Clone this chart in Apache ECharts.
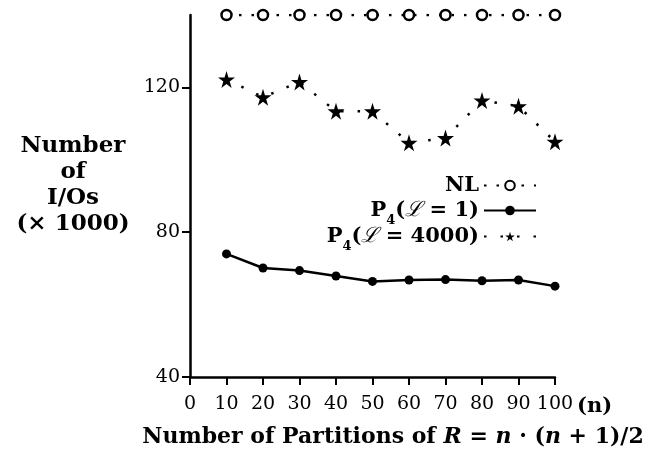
<!DOCTYPE html>
<html>
<head>
<meta charset="utf-8">
<script src="https://cdn.jsdelivr.net/npm/echarts@6/dist/echarts.min.js"></script>
<style>
  html, body { margin: 0; padding: 0; background: #fff; }
  #main { width: 650px; height: 452px; }
</style>
</head>
<body>
<div id="main"></div>
<script>
// partitions n
const partitions = [10, 20, 30, 40, 50, 60, 70, 80, 90, 100];
// I/Os (x1000)
const nlValues = [140, 140, 140, 140, 140, 140, 140, 140, 140, 140];
const p4L1Values = [74, 70.1, 69.4, 67.9, 66.4, 66.8, 66.9, 66.6, 66.8, 65.1];
const p4L4000Values = [122.2, 117.3, 121.5, 113.4, 113.4, 104.7, 106, 116.4, 114.8, 105];
const yTicks = [40, 80, 120];

const pairs = (vals) => partitions.map((n, i) => [n, vals[i]]);

const serif = 'DejaVu Serif';
const star = 'path://M50,0 L61,35 L98,35 L68,57 L79,91 L50,70 L21,91 L32,57 L2,35 L39,35 Z';

const legendRich = {
  b: { fontFamily: serif, fontWeight: 'bold', fontSize: 21, color: '#000' },
  s: { fontFamily: serif, fontWeight: 'bold', fontSize: 13, color: '#000', verticalAlign: 'bottom', padding: [0, 0, -6, 0] },
  sc: { fontFamily: serif, fontStyle: 'italic', fontSize: 21, color: '#000' }
};
const legendFmt = (name) => {
  if (name === 'NL') return '{b|NL}';
  if (name === 'P4(L=1)') return '{b|P}{s|4}{b|(}{sc|ℒ}{b| = 1)}';
  return '{b|P}{s|4}{b|(}{sc|ℒ}{b| = 4000)}';
};
const legendBase = {
  orient: 'vertical', align: 'right', right: 108,
  itemWidth: 52, itemHeight: 12,
  formatter: legendFmt,
  textStyle: { rich: legendRich }
};

const chart = echarts.init(document.getElementById('main'));
chart.setOption({
  backgroundColor: '#fff',
  animation: false,
  title: [
    {
      text: 'Number\nof\nI/Os\n(× 1000)',
      left: 68, top: 128, textAlign: 'center',
      textStyle: { fontFamily: serif, fontWeight: 'bold', fontSize: 23, lineHeight: 26, color: '#000', align: 'center' }
    },
    {
      text: '(n)',
      left: 572, top: 391,
      textStyle: { fontFamily: serif, fontWeight: 'bold', fontSize: 21, color: '#000' }
    },
    {
      text: '{b|Number of Partitions of }{i|R}{b| = }{i|n}{b| · (}{i|n}{b| + 1)/2}',
      left: 388, top: 421, textAlign: 'center',
      textStyle: {
        rich: {
          b: { fontFamily: serif, fontWeight: 'bold', fontSize: 22, color: '#000' },
          i: { fontFamily: serif, fontWeight: 'bold', fontStyle: 'italic', fontSize: 22, color: '#000' }
        }
      }
    }
  ],
  legend: [
    Object.assign({}, legendBase, { data: ['NL'], top: 170 }),
    Object.assign({}, legendBase, { data: ['P4(L=1)'], top: 195 }),
    Object.assign({}, legendBase, { data: ['P4(L=4000)'], top: 221 })
  ],
  grid: { left: 190, right: 95, top: 15, bottom: 75, outerBoundsMode: 'none' },
  xAxis: {
    type: 'value', min: 0, max: 100, interval: 10,
    axisLine: { lineStyle: { color: '#000', width: 2.5 } },
    axisTick: { length: 8, lineStyle: { color: '#000', width: 2 } },
    axisLabel: { color: '#000', fontFamily: serif, fontSize: 19, margin: 18 },
    splitLine: { show: false }
  },
  yAxis: {
    type: 'value', min: 40, max: 140,
    axisLine: { show: true, lineStyle: { color: '#000', width: 2.5 } },
    axisTick: { show: true, length: 8, customValues: yTicks, lineStyle: { color: '#000', width: 2 } },
    axisLabel: { color: '#000', fontFamily: serif, fontSize: 19, margin: 10, customValues: yTicks },
    splitLine: { show: false }
  },
  series: [
    {
      name: 'NL', type: 'line', data: pairs(nlValues),
      symbol: 'circle', symbolSize: 10,
      itemStyle: { color: '#fff', borderColor: '#000', borderWidth: 2.5 },
      lineStyle: { color: '#000', width: 2.5, type: [2.5, 10] }
    },
    {
      name: 'P4(L=1)', type: 'line', data: pairs(p4L1Values),
      symbol: 'circle', symbolSize: 9,
      itemStyle: { color: '#000' },
      lineStyle: { color: '#000', width: 2.5 }
    },
    {
      name: 'P4(L=4000)', type: 'line', data: pairs(p4L4000Values),
      symbol: star, symbolSize: 17,
      itemStyle: { color: '#000' },
      lineStyle: { color: '#000', width: 2.5, type: [2.5, 14] }
    }
  ]
});
</script>
</body>
</html>
